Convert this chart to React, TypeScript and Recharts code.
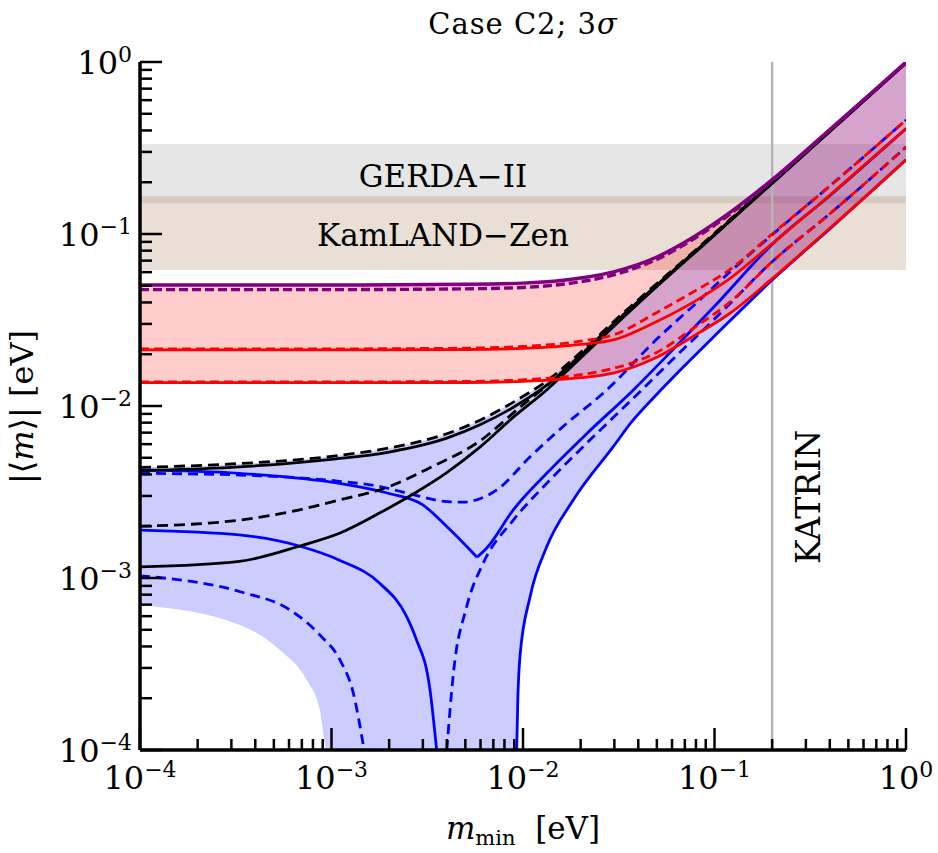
import React from "react";
import { Area, ComposedChart, Line, ReferenceArea, ReferenceLine, XAxis, YAxis } from "recharts";

const FONT = "'DejaVu Serif', serif";

// log axis ticks: decades with 2..9 minor ticks
const decades = [-4, -3, -2, -1];
const steps = [1, 2, 3, 4, 5, 6, 7, 8, 9];
const logTicks = [
    ...decades.flatMap((d) => steps.map((s) => parseFloat((s * Math.pow(10, d)).toPrecision(6)))),
    1,
];

// experimental bounds [eV]
const gerda = [0.151, 0.334];
const kamland = [0.0618, 0.166];
const katrin = 0.2;

// inverted ordering curves, all on one m_min grid
const ioX = [1e-4, 1e-3, 5e-3, 0.01, 0.02, 0.03, 0.05, 0.08, 0.12, 0.2, 0.4, 0.7, 1];
const ioMaxSolid = [0.0505, 0.0505, 0.051, 0.0518, 0.0555, 0.0605, 0.0735, 0.098, 0.133, 0.207, 0.405, 0.702, 1.0];
const ioMaxDashed = [0.0475, 0.0475, 0.048, 0.0489, 0.0528, 0.058, 0.0712, 0.0955, 0.13, 0.204, 0.401, 0.697, 0.99];
const ioMidSolid = [0.0212, 0.0212, 0.0213, 0.0216, 0.0228, 0.0243, 0.031, 0.041, 0.055, 0.088, 0.168, 0.29, 0.41];
const ioMidDashed = [0.0215, 0.0215, 0.0217, 0.0222, 0.0238, 0.026, 0.035, 0.047, 0.062, 0.1, 0.19, 0.325, 0.46];
const ioLowSolid = [0.01366, 0.01366, 0.0137, 0.0139, 0.0146, 0.0156, 0.0192, 0.026, 0.0345, 0.055, 0.108, 0.188, 0.27];
const ioLowDashed = [0.0138, 0.0138, 0.0139, 0.0142, 0.0152, 0.0166, 0.0205, 0.029, 0.04, 0.069, 0.131, 0.225, 0.32];

// normal ordering curves, [m_min, |<m>|]
const noUpperDashed = [
    [1e-4, 0.0044], [3e-4, 0.0046], [1e-3, 0.0051], [2e-3, 0.0057], [4e-3, 0.0069], [6e-3, 0.0083],
    [9e-3, 0.0106], [0.014, 0.0146], [0.02, 0.0205], [0.032, 0.0333], [0.05, 0.0515], [0.08, 0.081],
    [0.12, 0.121], [0.2, 0.2], [0.4, 0.4], [1, 0.995],
];
const noUpperSolid = [
    [1e-4, 0.00421], [3e-4, 0.0044], [1e-3, 0.0049], [2e-3, 0.0054], [4e-3, 0.0065], [6e-3, 0.0078],
    [9e-3, 0.0099], [0.014, 0.0138], [0.02, 0.0196], [0.032, 0.0323], [0.05, 0.0503], [0.08, 0.0797],
    [0.12, 0.119], [0.2, 0.198], [0.4, 0.397], [1, 0.99],
];
const noLowerDashed = [
    [1e-4, 0.002], [3.3e-4, 0.00217], [6.1e-4, 0.00243], [1.1e-3, 0.00284], [2e-3, 0.0034], [3.3e-3, 0.0044],
    [6e-3, 0.0063], [9.6e-3, 0.0098], [0.014, 0.0138], [0.02, 0.0198], [0.032, 0.0325], [0.05, 0.0505],
    [0.1, 0.0995], [0.2, 0.198], [1, 0.99],
];
const noLowerSolid = [
    [1e-4, 0.00116], [3.3e-4, 0.00125], [6.9e-4, 0.00154], [1.1e-3, 0.00182], [1.8e-3, 0.0024], [2.7e-3, 0.0031],
    [4e-3, 0.0041], [6e-3, 0.0058], [9e-3, 0.0087], [0.0133, 0.0124], [0.02, 0.019], [0.032, 0.0313],
    [0.05, 0.0495], [0.1, 0.0985], [0.2, 0.197], [1, 0.985],
];
const blueDashedDip = [
    [1e-4, 0.00406], [3.3e-4, 0.00397], [1.1e-3, 0.00365], [1.8e-3, 0.0034], [2.7e-3, 0.00304], [4e-3, 0.00278],
    [4.9e-3, 0.00276], [6e-3, 0.0029], [7.3e-3, 0.00325], [0.0109, 0.00507], [0.0162, 0.0076], [0.0274, 0.0124],
    [0.05, 0.0245], [0.08, 0.0395], [0.12, 0.06], [0.2, 0.099], [0.4, 0.19], [1, 0.46],
];
const blueSolidFall = [
    [1e-4, 0.00425], [3.3e-4, 0.00406], [1.1e-3, 0.00355], [2e-3, 0.0031], [3e-3, 0.00266], [4e-3, 0.00199],
    [5.1e-3, 0.00152], [5.75e-3, 0.00132],
];
const blueSolidRise = [
    [5.75e-3, 0.00132], [6.45e-3, 0.00149], [8.9e-3, 0.00249], [0.0133, 0.00406], [0.0215, 0.0069],
    [0.0377, 0.0124], [0.06, 0.021], [0.1, 0.038], [0.2, 0.087], [0.4, 0.167], [1, 0.41],
];
const blueDashedRise = [
    [0.004, 1e-4], [0.00433, 2.79e-4], [0.00508, 6.81e-4], [0.0062, 1.22e-3], [0.0089, 2.17e-3],
    [0.0133, 3.55e-3], [0.0215, 6.07e-3], [0.0417, 0.0124], [0.06, 0.0185], [0.1, 0.032], [0.2, 0.069],
    [0.4, 0.131], [1, 0.32],
];
const blueSolidLeft = [
    [1e-4, 0.0019], [3.3e-4, 0.00178], [6.85e-4, 0.00153], [1.1e-3, 0.00127], [1.79e-3, 0.00093],
    [2.47e-3, 0.000596], [2.75e-3, 0.00045], [3.27e-3, 0.000223], [3.54e-3, 1e-4],
];
const blueDashedLeft = [
    [1e-4, 0.00103], [3.33e-4, 0.000832], [6.07e-4, 0.000652], [8.7e-4, 0.000466], [1.107e-3, 0.000334],
    [1.3e-3, 0.000214], [1.48e-3, 1e-4],
];
const blueSolidOuter = [
    [0.00927, 1e-4], [0.0094, 2e-4], [0.00964, 3.49e-4], [0.01089, 7.78e-4], [0.0133, 1.52e-3],
    [0.0183, 2.84e-3], [0.0296, 5.8e-3], [0.037, 8.1e-3], [0.05, 0.0117], [0.07, 0.0172], [0.1, 0.0255],
    [0.2, 0.054], [0.4, 0.107], [1, 0.27],
];

// NO allowed region: [m_min, lower, upper]
const noBand = [
    [1e-4, 0.000697, 0.0044], [3.33e-4, 0.000533, 0.0046], [5.38e-4, 0.000381, 0.0048],
    [7.42e-4, 0.000255, 0.0049], [8.7e-4, 0.000171, 0.00503], [9.44e-4, 1e-4, 0.00507],
    [2e-3, 1e-4, 0.0057], [4e-3, 1e-4, 0.0069], [6e-3, 1e-4, 0.0083], [9e-3, 1e-4, 0.0106],
    [0.00927, 1e-4, 0.0108], [0.0094, 2e-4, 0.0109], [0.00964, 3.49e-4, 0.0111], [0.01089, 7.78e-4, 0.012],
    [0.0133, 1.52e-3, 0.014], [0.0183, 2.84e-3, 0.0189], [0.0296, 5.8e-3, 0.0308], [0.037, 8.1e-3, 0.0383],
    [0.05, 0.0117, 0.0515], [0.07, 0.0172, 0.071], [0.1, 0.0255, 0.101], [0.2, 0.054, 0.2],
    [0.4, 0.107, 0.4], [1, 0.27, 0.995],
];

const pts = (arr: number[][]) => arr.map(([x, y]) => ({ x, y }));
const io = (ys: number[]) => ioX.map((x, i) => ({ x, y: ys[i] }));
const noBandData = noBand.map(([x, lo, hi]) => ({ x, range: [lo, hi] }));
const ioBandData = ioX.map((x, i) => ({ x, range: [ioLowSolid[i], ioMaxSolid[i]] }));

const isMajor = (v: number) => Math.abs(Math.log10(v) - Math.round(Math.log10(v))) < 1e-6;
const expLabel = (v: number) => {
    const e = Math.round(Math.log10(v));
    return e === 0 ? "0" : "\u2212" + -e;
};

const XTick = (props: any) => {
    const { x, y, payload } = props;
    const major = isMajor(payload.value);
    return (
        <g>
            <line x1={x} y1={y} x2={x} y2={y - (major ? 22 : 11)} stroke="#000" strokeWidth={2.5} />
            {major && (
                <text x={x} y={y + 39} textAnchor="middle" fontFamily={FONT} fontSize={32} fill="#000">
                    10<tspan fontSize={22} dy={-12}>{expLabel(payload.value)}</tspan>
                </text>
            )}
        </g>
    );
};

const YTick = (props: any) => {
    const { x, y, payload } = props;
    const major = isMajor(payload.value);
    return (
        <g>
            <line x1={x} y1={y} x2={x + (major ? 22 : 12)} y2={y} stroke="#000" strokeWidth={2.5} />
            {major && (
                <text x={x - 8} y={y + 12} textAnchor="end" fontFamily={FONT} fontSize={32} fill="#000">
                    10<tspan fontSize={22} dy={-12}>{expLabel(payload.value)}</tspan>
                </text>
            )}
        </g>
    );
};

const curve = (key: string, data: any[], color: string, dash?: string, width = 2.8) => (
    <Line
        key={key}
        data={data}
        dataKey="y"
        type="monotone"
        stroke={color}
        strokeWidth={width}
        strokeDasharray={dash}
        dot={false}
        activeDot={false}
        isAnimationActive={false}
    />
);

export default function App() {
    return (
        <div style={{ position: "absolute", left: 0, top: 0, width: 938, height: 853, background: "#fff" }}>
            <ComposedChart width={938} height={853} margin={{ top: 62, right: 32, bottom: 0, left: 0 }}>
                <XAxis
                    dataKey="x"
                    type="number"
                    scale="log"
                    domain={[1e-4, 1]}
                    allowDataOverflow
                    ticks={logTicks}
                    interval={0}
                    tick={XTick}
                    tickLine={false}
                    tickSize={0}
                    tickMargin={0}
                    height={103}
                    axisLine={{ stroke: "#000", strokeWidth: 3.5 }}
                />
                <XAxis
                    xAxisId="top"
                    orientation="top"
                    type="number"
                    scale="log"
                    domain={[1e-4, 1]}
                    allowDataOverflow
                    tick={false}
                    tickLine={false}
                    height={0}
                    axisLine={{ stroke: "#000", strokeWidth: 3 }}
                />
                <YAxis
                    type="number"
                    scale="log"
                    domain={[1e-4, 1]}
                    allowDataOverflow
                    ticks={logTicks}
                    interval={0}
                    tick={YTick}
                    tickLine={false}
                    tickSize={0}
                    tickMargin={0}
                    width={140}
                    axisLine={{ stroke: "#000", strokeWidth: 3.5 }}
                />
                <YAxis
                    yAxisId="right"
                    orientation="right"
                    type="number"
                    scale="log"
                    domain={[1e-4, 1]}
                    allowDataOverflow
                    tick={false}
                    tickLine={false}
                    width={0}
                    axisLine={{ stroke: "#000", strokeWidth: 3 }}
                />

                <ReferenceArea y1={gerda[0]} y2={gerda[1]} fill="#808080" fillOpacity={0.2} stroke="none" />
                <ReferenceArea y1={kamland[0]} y2={kamland[1]} fill="#a06e3c" fillOpacity={0.22} stroke="none" />

                <Area data={noBandData} dataKey="range" type="monotone" stroke="none" fill="#0000ff" fillOpacity={0.2} isAnimationActive={false} />
                <Area data={ioBandData} dataKey="range" type="monotone" stroke="none" fill="#ff0000" fillOpacity={0.2} isAnimationActive={false} />

                <ReferenceLine x={katrin} stroke="#b5b5b5" strokeWidth={2.5} />

                {curve("bdl", pts(blueDashedLeft), "#0000ff", "10 6")}
                {curve("bsl", pts(blueSolidLeft), "#0000ff")}
                {curve("bdd", pts(blueDashedDip), "#0000ff", "10 6")}
                {curve("bsf", pts(blueSolidFall), "#0000ff")}
                {curve("bsr", pts(blueSolidRise), "#0000ff")}
                {curve("bdr", pts(blueDashedRise), "#0000ff", "10 6")}
                {curve("bso", pts(blueSolidOuter), "#0000ff")}

                {curve("kls", pts(noLowerSolid), "#000")}
                {curve("kld", pts(noLowerDashed), "#000", "11 6")}
                {curve("kus", pts(noUpperSolid), "#000")}
                {curve("kud", pts(noUpperDashed), "#000", "11 6")}

                {curve("rls", io(ioLowSolid), "#ff0000")}
                {curve("rld", io(ioLowDashed), "#ff0000", "9 5")}
                {curve("rms", io(ioMidSolid), "#ff0000")}
                {curve("rmd", io(ioMidDashed), "#ff0000", "9 5")}
                {curve("pms", io(ioMaxSolid), "#800080", undefined, 3.4)}
                {curve("pmd", io(ioMaxDashed), "#800080", "9 4", 3.4)}
            </ComposedChart>

            <svg
                width={938}
                height={853}
                style={{ position: "absolute", left: 0, top: 0, pointerEvents: "none" }}
                fontFamily={FONT}
                fill="#000"
            >
                <text x={523} y={34} textAnchor="middle" fontSize={29} letterSpacing={1}>
                    Case C2;{"\u00a0"}3<tspan fontStyle="italic">σ</tspan>
                </text>
                <text x={443} y={187} textAnchor="middle" fontSize={31}>GERDA−II</text>
                <text x={443} y={246} textAnchor="middle" fontSize={31}>KamLAND−Zen</text>
                <text x={820} y={497} textAnchor="middle" fontSize={33} transform="rotate(-90 820 497)">
                    KATRIN
                </text>
                <text x={523} y={839} textAnchor="middle" fontSize={31}>
                    <tspan fontStyle="italic">m</tspan>
                    <tspan fontSize={21} dy={6}>min</tspan>
                    <tspan dy={-6}>{"\u00a0\u00a0[eV]"}</tspan>
                </text>
                <text x={33} y={407} textAnchor="middle" fontSize={32} transform="rotate(-90 33 407)">
                    |⟨<tspan fontStyle="italic">m</tspan>⟩|{"\u00a0"}[eV]
                </text>
            </svg>
        </div>
    );
}
